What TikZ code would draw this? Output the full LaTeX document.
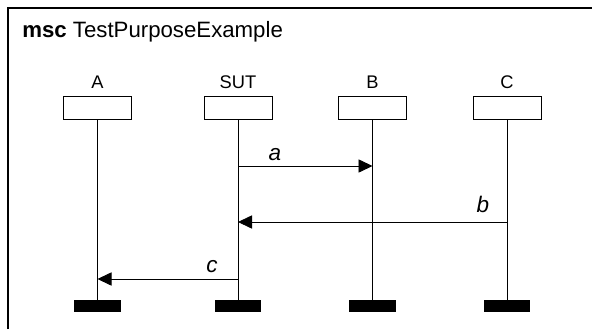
\documentclass[tikz,border=0pt]{standalone}
\usepackage{fontspec}
\setmainfont{Liberation Sans}
\usetikzlibrary{arrows.meta}

\begin{document}
\begin{tikzpicture}[x=0.025cm,y=-0.025cm,
  head/.style={draw,line width=0.6pt,minimum width=1.7cm,minimum height=0.56cm,inner sep=0pt},
  stopbar/.style={fill=black,minimum width=1.15cm,minimum height=0.3cm,inner sep=0pt},
  msg/.style={line width=0.6pt,-{Triangle[length=0.35cm,width=0.33cm]}},
  instname/.style={font=\fontsize{13}{15}\selectfont,anchor=base},
  lbl/.style={font=\fontsize{16}{19}\selectfont\itshape,anchor=base}]
\useasboundingbox (0,0) rectangle (592,329);
\draw[line width=1pt] (8,329) -- (8,8) -- (592,8);
\node[anchor=base west,font=\fontsize{15.8}{18}\selectfont,inner sep=0pt] (title) at (22,37) {\textbf{msc} TestPurposeExample};

% instances
\node[head] (A)   at (97.5,108)  {};
\node[head] (SUT) at (238,108)   {};
\node[head] (B)   at (372.5,108) {};
\node[head] (C)   at (507,108)   {};
\node[instname] (nA)   at ([yshift=0.19cm]A.north)   {A};
\node[instname] (nSUT) at ([yshift=0.19cm]SUT.north) {SUT};
\node[instname] (nB)   at ([yshift=0.19cm]B.north)   {B};
\node[instname] (nC)   at ([yshift=0.19cm]C.north)   {C};

\node[stopbar] (endA)   at (97.5,306)  {};
\node[stopbar] (endSUT) at (238,306)   {};
\node[stopbar] (endB)   at (372.5,306) {};
\node[stopbar] (endC)   at (507,306)   {};

\draw[line width=0.6pt] (A) -- (endA);
\draw[line width=0.6pt] (SUT) -- (endSUT);
\draw[line width=0.6pt] (B) -- (endB);
\draw[line width=0.6pt] (C) -- (endC);

% messages
\draw[msg] (SUT |- 0,166) -- (B |- 0,166);
\node[lbl] (la) at (275,160) {a};
\draw[msg] (C |- 0,222) -- (SUT |- 0,222);
\node[lbl] (lb) at (483,212) {b};
\draw[msg] (SUT |- 0,279) -- (A |- 0,279);
\node[lbl] (lc) at (212,272) {c};
\end{tikzpicture}
\end{document}
